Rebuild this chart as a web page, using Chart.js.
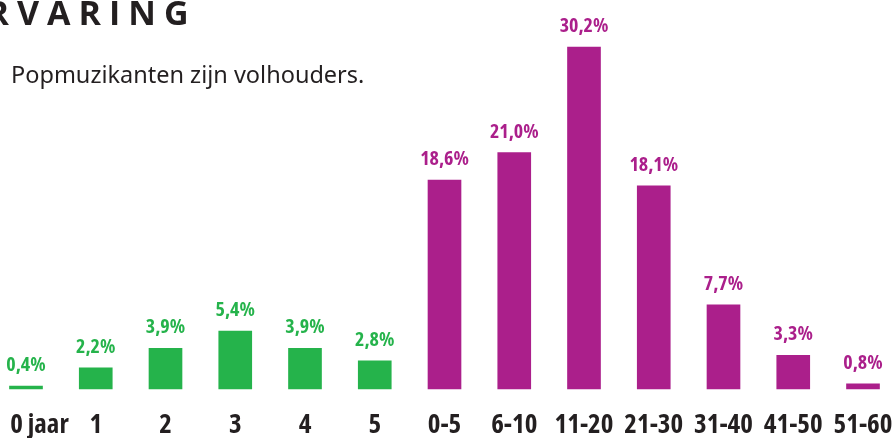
<!DOCTYPE html>
<html>
<head>
<meta charset="utf-8">
<script src="https://cdn.jsdelivr.net/npm/chart.js@4.4.1/dist/chart.umd.min.js"></script>
<style>
  html, body { margin: 0; padding: 0; background: #ffffff; }
  #wrap { position: relative; width: 895px; height: 438px; overflow: hidden; }
  #chart { position: absolute; left: 0; top: 0; }
  .ttl {
    font-family: "Open Sans", sans-serif; font-stretch: 90%;
    font-weight: bold; font-size: 34px; line-height: 46px; letter-spacing: 8px;
    color: #231f20; white-space: nowrap;
  }
  #title { position: absolute; left: -33px; top: -11px; margin: 0; }
  #measure { position: absolute; left: 0; top: 0; visibility: hidden; }
  #subtitle {
    position: absolute; left: 11px; top: 58px; margin: 0;
    font-family: "Noto Sans", "Open Sans", sans-serif;
    font-size: 23.5px; line-height: 32px; color: #231f20; white-space: nowrap;
  }
</style>
</head>
<body>
<div id="wrap">
  <canvas id="chart" width="895" height="438"></canvas>
  <div id="title" class="ttl">ERVARING</div>
  <span id="measure" class="ttl">ER</span>
  <div id="subtitle">Popmuzikanten zijn volhouders.</div>
</div>
<script>
// Categories (x axis tick labels)
const yearLabels = ["0 jaar", "1", "2", "3", "4", "5"];
const rangeLabels = ["0-5", "6-10", "11-20", "21-30", "31-40", "41-50", "51-60"];

// Values in percent
const yearValues = [0.4, 2.2, 3.9, 5.4, 3.9, 2.8];
const rangeValues = [18.6, 21.0, 30.2, 18.1, 7.7, 3.3, 0.8];

const greenColor = "#25b34b";
const purpleColor = "#ab1f8b";
const textColor = "#231f20";
const condFamily = "'Open Sans', sans-serif";

// Title: the word is cropped at the left edge so that the "V" starts at x=17
(function () {
  const w = document.getElementById("measure").getBoundingClientRect().width;
  document.getElementById("title").style.left = (17 - w) + "px";
})();

const categories = yearLabels.concat(rangeLabels);
const greenData = yearValues.concat(rangeLabels.map(() => null));
const purpleData = yearLabels.map(() => null).concat(rangeValues);

const valueLabelPlugin = {
  id: "valueLabels",
  afterDatasetsDraw(chart) {
    const ctx = chart.ctx;
    ctx.save();
    ctx.font = "bold condensed 20px " + condFamily;
    ctx.textAlign = "center";
    ctx.textBaseline = "alphabetic";
    chart.data.datasets.forEach((ds, di) => {
      const meta = chart.getDatasetMeta(di);
      meta.data.forEach((bar, i) => {
        const v = ds.data[i];
        if (v === null || v === undefined) return;
        ctx.fillStyle = ds.backgroundColor;
        const txt = v.toFixed(1).replace(".", ",") + "%";
        ctx.fillText(txt, bar.x, bar.y - 15);
      });
    });
    ctx.restore();
  }
};

const axisMin = 0.35;

new Chart(document.getElementById("chart"), {
  type: "bar",
  data: {
    labels: categories,
    datasets: [
      { label: "Jaar", data: greenData, backgroundColor: greenColor },
      { label: "Jaren", data: purpleData, backgroundColor: purpleColor }
    ]
  },
  options: {
    responsive: false,
    animation: false,
    events: [],
    layout: { padding: { left: 26, right: 32, top: 0, bottom: 0 } },
    datasets: {
      bar: { grouped: false, barThickness: 33, minBarLength: 3, borderWidth: 0, clip: false, base: axisMin }
    },
    plugins: {
      legend: { display: false },
      title: { display: false },
      tooltip: { enabled: false }
    },
    scales: {
      x: {
        type: "category",
        offset: false,
        grid: { display: false, drawTicks: false },
        border: { display: false },
        ticks: {
          autoSkip: false,
          maxRotation: 0,
          minRotation: 0,
          padding: 20,
          color: textColor,
          font: { family: condFamily, size: 27, weight: "bold condensed" },
          callback: function (value, index) {
            const lab = this.getLabelForValue(value);
            // the first label sits to the right of its bar, as in the original
            return index === 0 ? "\u2002\u2002" + lab : lab;
          }
        },
        afterFit(scale) {
          scale.height = 49;
          scale.paddingLeft = 0;
          scale.paddingRight = 0;
        }
      },
      y: {
        display: false,
        min: axisMin,
        max: 34.32,
        grid: { display: false }
      }
    }
  },
  plugins: [valueLabelPlugin]
});
</script>
</body>
</html>
